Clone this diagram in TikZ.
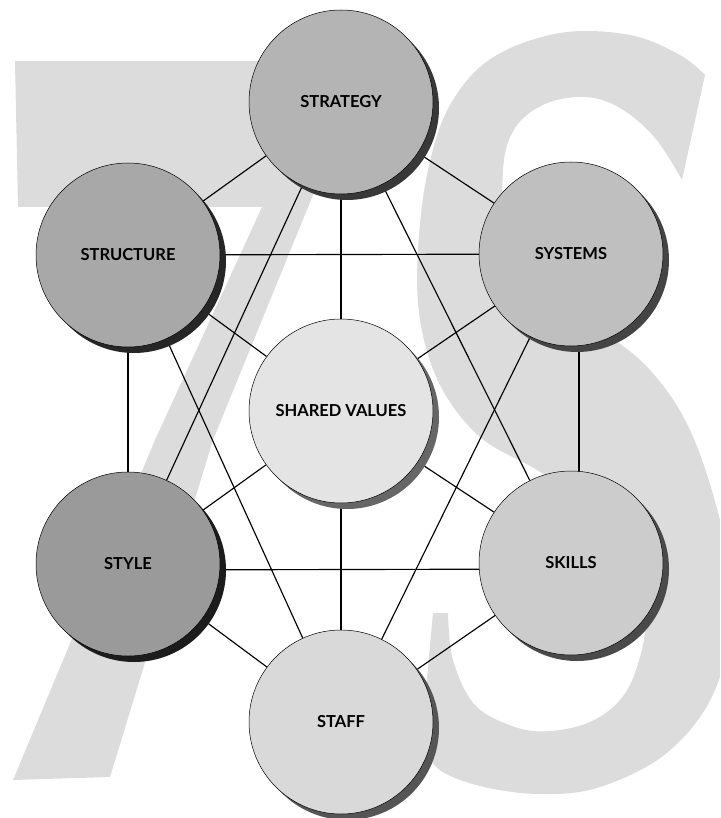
\documentclass[tikz,border=0pt]{standalone}
\usepackage{fontspec}
\setmainfont{Lato}
\usetikzlibrary{shadows}
\pgfdeclarelayer{backdrop}
\pgfdeclarelayer{links}
\pgfsetlayers{backdrop,links,main}

% fills of the seven circles and their shadows
\definecolor{letter}{HTML}{DCDCDC}
\definecolor{fStrat}{HTML}{B4B4B4}
\definecolor{fStruc}{HTML}{A8A8A8}
\definecolor{fSys}{HTML}{BFBFBF}
\definecolor{fStyle}{HTML}{9A9A9A}
\definecolor{fSkill}{HTML}{CCCCCC}
\definecolor{fStaff}{HTML}{D9D9D9}
\definecolor{fShared}{HTML}{E4E4E4}
\definecolor{sStrat}{HTML}{383838}
\definecolor{sStruc}{HTML}{262626}
\definecolor{sSys}{HTML}{444444}
\definecolor{sStyle}{HTML}{1C1C1C}
\definecolor{sSkill}{HTML}{4A4A4A}
\definecolor{sStaff}{HTML}{555555}
\definecolor{sShared}{HTML}{666666}

\begin{document}
\begin{tikzpicture}[x=1pt,y=-1pt,
  link/.style={draw=black,line width=1.15pt},
  ring/.style 2 args={circle,draw=black,line width=0.5pt,fill=#1,
    minimum size=184pt,inner sep=0pt,
    font=\bfseries\fontsize{16.5}{19}\selectfont,
    drop shadow={shadow xshift=6pt,shadow yshift=-6pt,opacity=1,fill=#2}}]

\useasboundingbox (0,0) rectangle (720,818);

% the seven elements
\node[ring={fStrat}{sStrat}]   (strat)  at (341,102) {STRATEGY};
\node[ring={fStruc}{sStruc}]   (struc)  at (128,255) {STRUCTURE};
\node[ring={fSys}{sSys}]       (sys)    at (571,254) {SYSTEMS};
\node[ring={fShared}{sShared}] (shared) at (341,411) {SHARED VALUES};
\node[ring={fStyle}{sStyle}]   (style)  at (128,564) {STYLE};
\node[ring={fSkill}{sSkill}]   (skill)  at (571,563) {SKILLS};
\node[ring={fStaff}{sStaff}]   (staff)  at (341,722) {STAFF};

% large "7S" lettering behind everything
\begin{pgfonlayer}{backdrop}
  \clip (0,0) rectangle (720,818);
  % the 7
  \fill[letter] (15,61) -- (368,61) -- (313,195) -- (213,440) -- (110,777)
    -- (13,780) -- (155,440) -- (262,207) -- (18,207) -- cycle;
  % the S
  \fill[letter] (705,75) -- plot[smooth,tension=0.6] coordinates {
      (682,180) (655,138) (620,108) (585,97) (545,104) (515,128) (503,170)
      (508,240) (540,295) (600,330) (650,370) (690,430) (720,520) (733,600)
      (715,690) (668,752) (600,787) (540,794) (480,786) (437,768) (425,740)}
    -- (425,700) -- (433,613)
    -- plot[smooth,tension=0.6] coordinates {
      (448,613) (453,660) (475,705) (515,727) (550,731) (590,722) (620,700)
      (637,667) (645,620) (630,560) (590,505) (537,470) (480,437) (440,385)
      (420,320) (418,250) (428,170) (450,105) (492,58) (560,33) (630,35)
      (680,55) (705,75)}
    -- cycle;
\end{pgfonlayer}

% every element linked to every other
\begin{pgfonlayer}{links}
  \draw[link] (strat) -- (struc);
  \draw[link] (strat) -- (sys);
  \draw[link] (strat) -- (shared);
  \draw[link] (strat) -- (style);
  \draw[link] (strat) -- (skill);
  \draw[link] (struc) -- (sys);
  \draw[link] (struc) -- (shared);
  \draw[link] (struc) -- (style);
  \draw[link] (struc) -- (staff);
  \draw[link] (sys) -- (shared);
  \draw[link] ([xshift=8pt]sys.center) -- ([xshift=8pt]skill.center);
  \draw[link] (sys) -- (staff);
  \draw[link] (shared) -- (style);
  \draw[link] (shared) -- (skill);
  \draw[link] (shared) -- (staff);
  \draw[link] ([yshift=-6pt]style.center) -- ([yshift=-6pt]skill.center);
  \draw[link] (style) -- (staff);
  \draw[link] (skill) -- (staff);
\end{pgfonlayer}
\end{tikzpicture}
\end{document}
